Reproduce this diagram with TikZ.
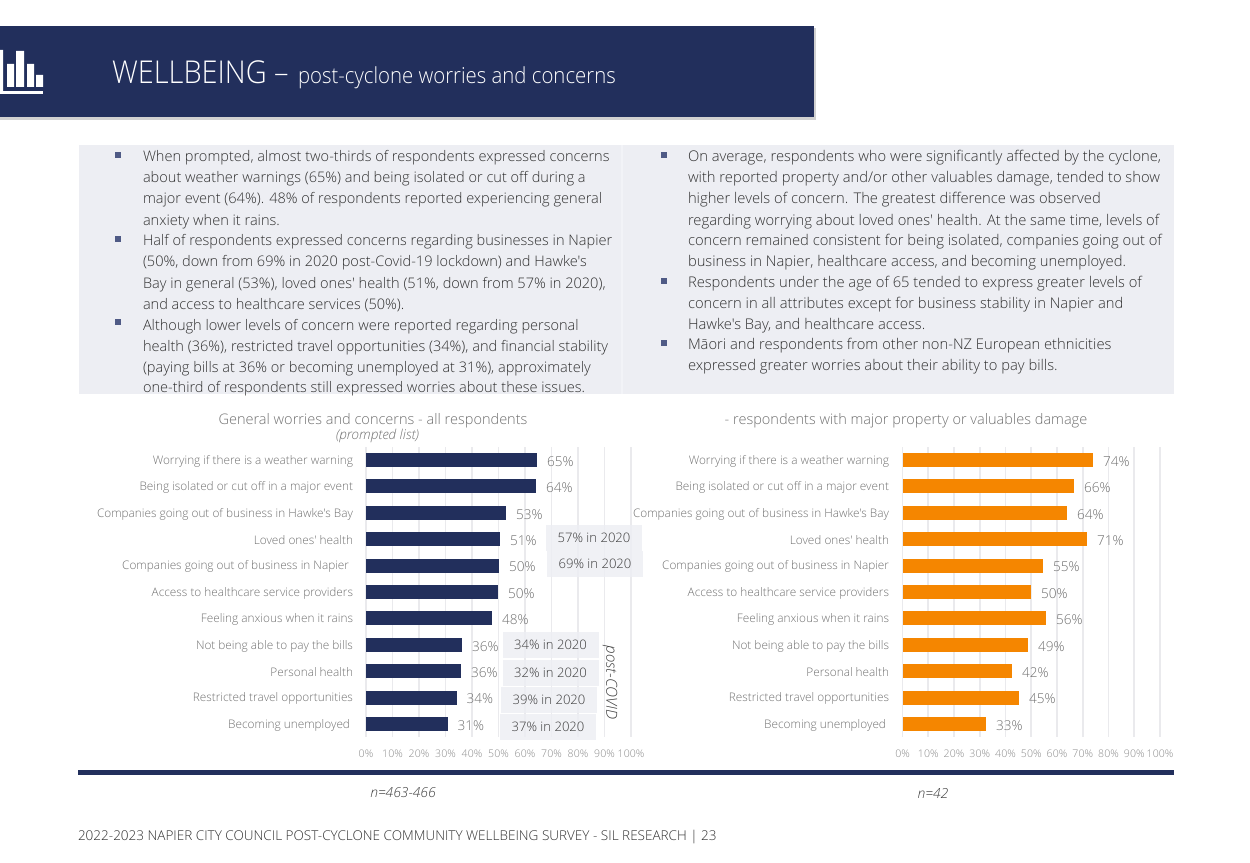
\documentclass[tikz,border=0pt]{standalone}
\usepackage{fontspec}
\setmainfont{Open Sans Light}
\newfontfamily\lightf{Open Sans Light}
\AtBeginDocument{\lightf}
\definecolor{navy}{HTML}{222F5C}
\definecolor{panel}{HTML}{EDEEF3}
\definecolor{panelgap}{HTML}{F2F3F7}
\definecolor{orangebar}{HTML}{F58600}
\definecolor{gridc}{HTML}{EAEAED}
\definecolor{labelc}{HTML}{707070}
\definecolor{valc}{HTML}{707070}
\definecolor{axisc}{HTML}{8C8C8C}
\definecolor{bodyc}{HTML}{303030}
\definecolor{notec}{HTML}{3C3C3C}
\definecolor{bulletc}{HTML}{4F5A85}
\tikzset{
 x=0.75pt,y=-0.75pt,
 every node/.style={inner sep=0pt,outer sep=0pt},
 bodyline/.style={anchor=base west,text=bodyc,font=\fontsize{10.92pt}{13pt}\selectfont},
 bodyright/.style={anchor=base west,text=bodyc,font=\fontsize{11.06pt}{13pt}\selectfont},
 bulletmark/.style={fill=bulletc,minimum width=3.8pt,minimum height=3.8pt},
 rowlabel/.style={anchor=east,text=labelc,font=\fontsize{8.85pt}{11pt}\selectfont},
 valuelabel/.style={anchor=west,text=valc,font=\fontsize{10.2pt}{12pt}\selectfont},
 axislabel/.style={anchor=center,text=axisc,font=\fontsize{7.9pt}{10pt}\selectfont},
 notebox/.style={fill=panel,fill opacity=0.85,text opacity=1,text=notec,font=\fontsize{9.8pt}{12pt}\selectfont,minimum width=72pt,minimum height=19.5pt,anchor=center},
 charttitle/.style={anchor=center,text=labelc,font=\fontsize{10.9pt}{13pt}\selectfont},
 smallitalic/.style={anchor=center,text=notec,font=\fontsize{10.4pt}{12pt}\itshape},
 gridline/.style={draw=gridc,line width=1.2pt},
 navybar/.style={fill=navy,draw=none},
 orangebarstyle/.style={fill=orangebar,draw=none},
}
\begin{document}
\begin{tikzpicture}
\useasboundingbox (0,0) rectangle (1250,863);
% title band
\fill[black!18] (0,28) rectangle (816,120);
\fill[navy] (0,26) rectangle (814,117);
\fill[white] (0,50) rectangle (3,94) (7,64) rectangle (14,87) (16,51) rectangle (24,87) (27,64) rectangle (34,87) (36,75) rectangle (43,87);
\fill[white] (0,91) rectangle (43,94);
\node[anchor=base west,xscale=0.92,text=white,font=\fontsize{23.6pt}{28pt}\selectfont] (title) at (112,84) {WELLBEING –};
\node[anchor=base west,xscale=0.92,text=white,font=\fontsize{16.6pt}{20pt}\selectfont] (subtitle) at (298,84) {post-cyclone worries and concerns};
% panel
\fill[panel] (79,145) rectangle (621,394);
\fill[panelgap] (621,145) rectangle (623,394);
\fill[panel] (623,145) rectangle (1174,394);
% bullets
\foreach \x/\y in {118/155,118/239,118/322,664/155,664/281,664/343}
  \node[bulletmark] at (\x,\y) {};
% left text
\node[bodyline] (l1) at (143,162) {When prompted, almost two-thirds of respondents expressed concerns};
\node[bodyline] (l2) at (143,183) {about weather warnings (65\%) and being isolated or cut off during a};
\node[bodyline] (l3) at (143,204) {major event (64\%). 48\% of respondents reported experiencing general};
\node[bodyline] (l4) at (143,225) {anxiety when it rains.};
\node[bodyline] (l5) at (143,246) {Half of respondents expressed concerns regarding businesses in Napier};
\node[bodyline] (l6) at (143,267) {(50\%, down from 69\% in 2020 post-Covid-19 lockdown) and Hawke's};
\node[bodyline] (l7) at (143,288) {Bay in general (53\%), loved ones' health (51\%, down from 57\% in 2020),};
\node[bodyline] (l8) at (143,309) {and access to healthcare services (50\%).};
\node[bodyline] (l9) at (143,330) {Although lower levels of concern were reported regarding personal};
\node[bodyline] (l10) at (143,351) {health (36\%), restricted travel opportunities (34\%), and financial stability};
\node[bodyline] (l11) at (143,372) {(paying bills at 36\% or becoming unemployed at 31\%), approximately};
\node[bodyline] (l12) at (143,392) {one-third of respondents still expressed worries about these issues.};
% right text
\node[bodyright] (r1) at (688,162) {On average, respondents who were significantly affected by the cyclone,};
\node[bodyright] (r2) at (688,183) {with reported property and/or other valuables damage, tended to show};
\node[bodyright] (r3) at (688,204) {higher levels of concern. The greatest difference was observed};
\node[bodyright] (r4) at (688,225) {regarding worrying about loved ones' health. At the same time, levels of};
\node[bodyright] (r5) at (688,246) {concern remained consistent for being isolated, companies going out of};
\node[bodyright] (r6) at (688,267) {business in Napier, healthcare access, and becoming unemployed.};
\node[bodyright] (r7) at (688,287) {Respondents under the age of 65 tended to express greater levels of};
\node[bodyright] (r8) at (688,308) {concern in all attributes except for business stability in Napier and};
\node[bodyright] (r9) at (688,329) {Hawke's Bay, and healthcare access.};
\node[bodyright] (r10) at (688,349) {Māori and respondents from other non-NZ European ethnicities};
\node[bodyright] (r11) at (688,370) {expressed greater worries about their ability to pay bills.};
% chart titles
\node[charttitle] (ct1) at (373,420.5) {General worries and concerns - all respondents};
\node[anchor=center,text=labelc,font=\fontsize{10.2pt}{11pt}\itshape] (ct1b) at (377.5,436) {(prompted list)};
\node[charttitle] (ct2) at (906,420.5) {- respondents with major property or valuables damage};
% grids
\foreach \i in {0,...,10} {
  \draw[gridline] ({366+26.5*\i},447) -- ({366+26.5*\i},737);
  \draw[gridline] ({902.5+25.75*\i},447) -- ({902.5+25.75*\i},737);
  \pgfmathtruncatemacro{\pc}{\i*10}
  \node[axislabel] (axl\i) at ({366+26.5*\i},754) {\pc\%};
  \node[axislabel] (axr\i) at ({902.5+25.75*\i},754) {\pc\%};
}
% rows
\foreach \n/\lab/\lx/\a/\av/\b/\bv/\rx in {
 0/Worrying if there is a weather warning/353/537/65/1093/74/889,
 1/Being isolated or cut off in a major event/353/536/64/1074/66/889,
 2/Companies going out of business in Hawke's Bay/353/506/53/1067/64/889,
 3/Loved ones' health/353/500/51/1087/71/889,
 4/Companies going out of business in Napier/349/499/50/1043/55/889,
 5/Access to healthcare service providers/353/498/50/1031/50/889,
 6/Feeling anxious when it rains/353/492/48/1046/56/889,
 7/Not being able to pay the bills/353/462/36/1028/49/889,
 8/Personal health/353/461/36/1012/42/889,
 9/Restricted travel opportunities/353/456.5/34/1019/45/889,
 10/Becoming unemployed/350/447.5/31/986/33/886} {
  \pgfmathsetmacro{\yy}{460+26.4*\n}
  \node[rowlabel] (ll\n) at (\lx,\yy+1.2) {\lab};
  \node[rowlabel] (rl\n) at (\rx,\yy+1.2) {\lab};
  \fill[navybar] (366,\yy-7) rectangle (\a,\yy+7);
  \fill[orangebarstyle] (902.5,\yy-7) rectangle (\b,\yy+7);
  \node[valuelabel] (lv\n) at (\a+10,\yy+1.5) {\av\%};
  \node[valuelabel] (rv\n) at (\b+10,\yy+1.5) {\bv\%};
}
% notes
\node[notebox] (n57) at (594,538) {57\% in 2020};
\node[notebox] (n69) at (595,563.5) {69\% in 2020};
\node[notebox] (n34) at (550.5,645) {34\% in 2020};
\node[notebox] (n32) at (550.5,673) {32\% in 2020};
\node[notebox] (n39) at (549,700) {39\% in 2020};
\node[notebox] (n37) at (548,726.5) {37\% in 2020};
\node[rotate=-90,anchor=center,text=notec,font=\fontsize{11.4pt}{12pt}\itshape] (pc) at (610,682.5) {post-COVID};
% rule
\fill[navy] (78,770) rectangle (1174,775);
\node[smallitalic] (n1) at (403,793) {n=463-466};
\node[smallitalic] (n2) at (933,793) {n=42};
\node[anchor=base west,text=bodyc,font=\fontsize{10.15pt}{12pt}\selectfont] (foot) at (78,840) {2022-2023 NAPIER CITY COUNCIL POST-CYCLONE COMMUNITY WELLBEING SURVEY - SIL RESEARCH | 23};
\end{tikzpicture}
\end{document}
